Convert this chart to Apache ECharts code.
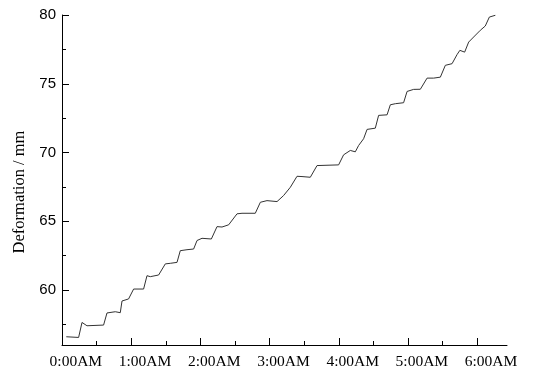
<!DOCTYPE html>
<html>
<head>
<meta charset="utf-8">
<script src="https://cdn.jsdelivr.net/npm/echarts@6/dist/echarts.min.js"></script>
<style>
html,body{margin:0;padding:0;background:#fff;}
#chart{width:543px;height:373px;}
</style>
</head>
<body>
<div id="chart"></div>
<script>
// Time in hours since 0:00AM
var timeHours = [0.062, 0.24, 0.289, 0.361, 0.601, 0.650, 0.770, 0.842, 0.867, 0.962,
  1.035, 1.179, 1.228, 1.276, 1.396, 1.493, 1.565, 1.662, 1.709, 1.806,
  1.902, 1.951, 2.023, 2.158, 2.240, 2.312, 2.408, 2.529, 2.601, 2.793,
  2.866, 2.962, 3.107, 3.202, 3.299, 3.396, 3.468, 3.588, 3.685, 3.997,
  4.069, 4.166, 4.238, 4.286, 4.358, 4.408, 4.527, 4.575, 4.697, 4.744,
  4.817, 4.936, 4.986, 5.081, 5.178, 5.275, 5.370, 5.467, 5.539, 5.636,
  5.708, 5.749, 5.818, 5.876, 5.948, 6.045, 6.116, 6.175, 6.262];
// Deformation in mm
var deformation = [56.6, 56.55, 57.64, 57.4, 57.45, 58.33, 58.42, 58.35, 59.2, 59.35,
  60.07, 60.07, 61.04, 60.97, 61.09, 61.9, 61.94, 62.01, 62.86, 62.93,
  62.98, 63.6, 63.76, 63.71, 64.61, 64.58, 64.74, 65.54, 65.58, 65.58,
  66.38, 66.5, 66.43, 66.87, 67.47, 68.27, 68.25, 68.2, 69.05, 69.1,
  69.83, 70.15, 70.05, 70.51, 71.0, 71.68, 71.77, 72.7, 72.74, 73.47,
  73.55, 73.62, 74.44, 74.59, 74.6, 75.41, 75.41, 75.48, 76.34, 76.46,
  77.12, 77.43, 77.3, 78.03, 78.4, 78.89, 79.2, 79.85, 79.98];
var xTickLabels = ['0:00AM', '1:00AM', '2:00AM', '3:00AM', '4:00AM', '5:00AM', '6:00AM'];
var xMajorTicks = [0, 1, 2, 3, 4, 5, 6];
var xMinorTicks = [0.5, 1.5, 2.5, 3.5, 4.5, 5.5];
var yMajorTicks = [60, 65, 70, 75, 80];
var yMinorTicks = [57.5, 62.5, 67.5, 72.5, 77.5];
var yAxisName = 'Deformation / mm';

var labelShift = 0.2;
var xLabelPositions = xMajorTicks.map(function (v) { return v + labelShift; });

var seriesData = timeHours.map(function (t, i) { return [t, deformation[i]]; });

var chart = echarts.init(document.getElementById('chart'), null, {renderer: 'canvas'});
var black = '#000';
chart.setOption({
  animation: false,
  backgroundColor: '#fff',
  grid: {left: 62, right: 36, top: 15, bottom: 28, containLabel: false},
  xAxis: [{
    type: 'value', min: 0, max: 6.43, position: 'bottom', offset: 0,
    axisLine: {show: true, lineStyle: {color: black, width: 1}},
    axisTick: {show: true, inside: true, length: 7, customValues: xMajorTicks, lineStyle: {color: black}},
    axisLabel: {
      show: true, customValues: xLabelPositions, margin: 9,
      color: black, fontFamily: 'Liberation Serif', fontSize: 15.5,
      formatter: function (v) { return xTickLabels[Math.round(v - labelShift)] || ''; }
    },
    splitLine: {show: false}
  }, {
    type: 'value', min: 0, max: 6.43, position: 'bottom', offset: 0,
    axisLine: {show: false},
    axisTick: {show: true, inside: true, length: 4, customValues: xMinorTicks, lineStyle: {color: black}},
    axisLabel: {show: false},
    splitLine: {show: false}
  }],
  yAxis: [{
    type: 'value', min: 56, max: 80, position: 'left', offset: 0,
    name: yAxisName, nameLocation: 'middle', nameGap: 34,
    nameTextStyle: {color: black, fontFamily: 'Liberation Serif', fontSize: 16.5, padding: [0, 24, 0, 0]},
    axisLine: {show: true, lineStyle: {color: black, width: 1}},
    axisTick: {show: true, inside: true, length: 7, customValues: yMajorTicks, lineStyle: {color: black}},
    axisLabel: {
      show: true, customValues: yMajorTicks, margin: 6,
      color: black, fontFamily: 'Liberation Sans', fontSize: 15
    },
    splitLine: {show: false}
  }, {
    type: 'value', min: 56, max: 80, position: 'left', offset: 0,
    axisLine: {show: false},
    axisTick: {show: true, inside: true, length: 4, customValues: yMinorTicks, lineStyle: {color: black}},
    axisLabel: {show: false},
    splitLine: {show: false}
  }],
  series: [{
    type: 'line',
    xAxisIndex: 0, yAxisIndex: 0,
    data: seriesData,
    showSymbol: false,
    symbol: 'none',
    smooth: false,
    lineStyle: {color: '#333', width: 1}
  }]
});
</script>
</body>
</html>
